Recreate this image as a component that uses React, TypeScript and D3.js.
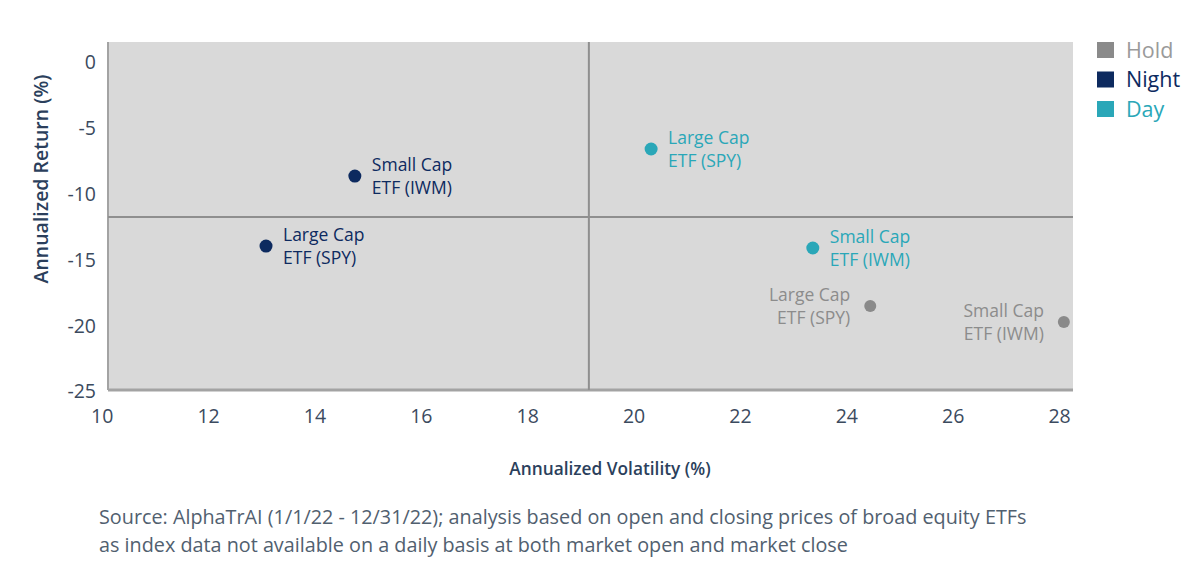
import React from "react";
import * as d3 from "d3";

const xTicks = [10, 12, 14, 16, 18, 20, 22, 24, 26, 28];
const yTicks = [0, -5, -10, -15, -20, -25];

const seriesNames = ["Hold", "Night", "Day"];
const seriesColors = ["#8a8a8a", "#0d2a5f", "#2aa7b8"];
const seriesTextColors = ["#8c8c8c", "#0d2a5f", "#2aa7b8"];
const legendTextColors = ["#9a9a9a", "#0d2a5f", "#2aa7b8"];

const pointSeries = ["Night", "Night", "Day", "Day", "Hold", "Hold"];
const pointLine1 = ["Small Cap", "Large Cap", "Large Cap", "Small Cap", "Large Cap", "Small Cap"];
const pointLine2 = ["ETF (IWM)", "ETF (SPY)", "ETF (SPY)", "ETF (IWM)", "ETF (SPY)", "ETF (IWM)"];
const pointVol = [14.75, 13.08, 20.32, 23.36, 24.44, 28.08];
const pointRet = [-8.65, -13.96, -6.6, -14.11, -18.51, -19.72];
const pointSide = ["right", "right", "right", "right", "left", "left"];

const quadrantVol = 19.15;
const quadrantRet = -11.76;

const sourceLines = [
  "Source: AlphaTrAI (1/1/22 - 12/31/22); analysis based on open and closing prices of broad equity ETFs",
  "as index data not available on a daily basis at both market open and market close",
];

const FONT = "'Open Sans', 'Noto Sans', sans-serif";

export default function App() {
  const W = 1200;
  const H = 567;
  const plotLeft = 108;
  const plotRight = 1073;
  const plotTop = 42;
  const plotBottom = 390;

  const x = d3.scaleLinear().domain([10, 28]).range([102.2, 1059.6]);
  const y = d3.scaleLinear().domain([-25, 0]).range([391.6, 62]);

  const colorOf = (s: string) => seriesColors[seriesNames.indexOf(s)];
  const textColorOf = (s: string) => seriesTextColors[seriesNames.indexOf(s)];

  return (
    <div style={{ position: "absolute", left: 0, top: 0 }}>
      <svg width={W} height={H} style={{ display: "block", background: "#fff" }}>
        <rect x={plotLeft} y={plotTop} width={plotRight - plotLeft} height={plotBottom - plotTop} fill="#d9d9d9" />
        <line x1={plotLeft} x2={plotLeft} y1={plotTop} y2={plotBottom} stroke="#a3a3a3" strokeWidth={2} />
        <line x1={plotLeft} x2={plotRight} y1={plotBottom} y2={plotBottom} stroke="#a3a3a3" strokeWidth={3} />
        <line x1={x(quadrantVol)} x2={x(quadrantVol)} y1={plotTop} y2={plotBottom} stroke="#8f8f8f" strokeWidth={2} />
        <line x1={plotLeft} x2={plotRight} y1={y(quadrantRet)} y2={y(quadrantRet)} stroke="#8f8f8f" strokeWidth={2} />

        {xTicks.map((t) => (
          <text key={"x" + t} x={x(t)} y={423} textAnchor="middle" fontFamily={FONT} fontSize={19.5} fill="#3b4a5e">
            {t}
          </text>
        ))}
        {yTicks.map((t) => (
          <text key={"y" + t} x={96} y={y(t)} dy="0.35em" textAnchor="end" fontFamily={FONT} fontSize={19.5} fill="#3b4a5e">
            {t === 0 ? "0" : "-" + Math.abs(t)}
          </text>
        ))}

        <text
          transform={`translate(48,179) rotate(-90)`}
          textAnchor="middle"
          fontFamily={FONT}
          fontSize={19.5}
          fontWeight={600}
          fill="#2b3f5c"
        >
          Annualized Return (%)
        </text>
        <text x={610} y={475} textAnchor="middle" fontFamily={FONT} fontSize={17.3} fontWeight={600} fill="#2b3f5c">
          Annualized Volatility (%)
        </text>

        {pointVol.map((v, i) => {
          const cx = x(v);
          const cy = y(pointRet[i]);
          const s = pointSeries[i];
          const right = pointSide[i] === "right";
          const tx = right ? cx + 17 : cx - 20;
          return (
            <g key={"p" + i}>
              <circle cx={cx} cy={cy} r={s === "Hold" ? 6 : 6.5} fill={colorOf(s)} />
              <text x={tx} y={cy - 5} textAnchor={right ? "start" : "end"} fontFamily={FONT} fontSize={17.5} fill={textColorOf(s)}>
                {pointLine1[i]}
              </text>
              <text x={tx} y={cy + 18} textAnchor={right ? "start" : "end"} fontFamily={FONT} fontSize={17.5} fill={textColorOf(s)}>
                {pointLine2[i]}
              </text>
            </g>
          );
        })}

        {seriesNames.map((s, i) => (
          <g key={"l" + s} transform={`translate(1097,${42 + i * 29.5})`}>
            <rect x={0} y={0} width={17} height={16} fill={seriesColors[i]} />
            <text x={29} y={8} dy="0.36em" fontFamily={FONT} fontSize={21.5} fill={legendTextColors[i]}>
              {s}
            </text>
          </g>
        ))}

        {sourceLines.map((l, i) => (
          <text key={"s" + i} x={99} y={524 + i * 28} fontFamily={FONT} fontSize={19.8} fill="#51606f">
            {l}
          </text>
        ))}
      </svg>
    </div>
  );
}
